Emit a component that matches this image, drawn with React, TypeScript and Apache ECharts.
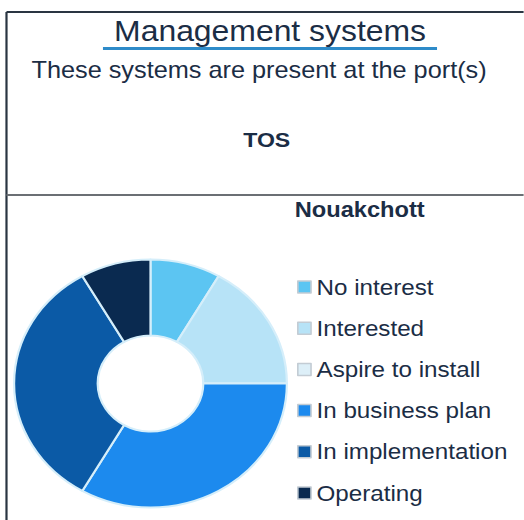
import React, { useEffect, useRef } from "react";
import * as echarts from "echarts";

const categories = [
  "No interest",
  "Interested",
  "Aspire to install",
  "In business plan",
  "In implementation",
  "Operating",
];
const values = [1, 2, 0, 4, 4, 1];
const colors = ["#5CC5F2", "#B7E3F7", "#DDEFF8", "#1C8AEE", "#0B5AA6", "#0A2A50"];

const titleText = "Management systems";
const subtitleText = "These systems are present at the port(s)";
const systemText = "TOS";
const portText = "Nouakchott";

const FONT = "Liberation Sans, Arial, sans-serif";
const INK = "#1b2d45";
const STRETCH = 1.1;
const W = 524 / STRETCH;
const H = 520;

export default function App() {
  const ref = useRef<HTMLDivElement>(null);

  useEffect(() => {
    if (!ref.current) return;
    const chart = echarts.init(ref.current, undefined, { renderer: "svg" });
    chart.setOption({
      animation: false,
      color: colors,
      graphic: [
        {
          type: "line",
          shape: { x1: 5.9, y1: 12, x2: W, y2: 12 },
          style: { stroke: "#2a3542", lineWidth: 2 },
        },
        {
          type: "line",
          shape: { x1: 5.9, y1: 12, x2: 5.9, y2: H },
          style: { stroke: "#2a3542", lineWidth: 2 },
        },
        {
          type: "line",
          shape: { x1: 5.9, y1: 195, x2: W, y2: 195 },
          style: { stroke: "#6b6f74", lineWidth: 2 },
        },
        {
          type: "text",
          x: 245.5,
          y: 31,
          style: {
            text: titleText,
            font: `29px ${FONT}`,
            fill: INK,
            align: "center",
            verticalAlign: "middle",
          },
        },
        {
          type: "line",
          shape: { x1: 93.6, y1: 48.5, x2: 397.3, y2: 48.5 },
          style: { stroke: "#2E8BC9", lineWidth: 3 },
        },
        {
          type: "text",
          x: 235.5,
          y: 69.5,
          style: {
            text: subtitleText,
            font: `23px ${FONT}`,
            fill: INK,
            align: "center",
            verticalAlign: "middle",
          },
        },
        {
          type: "text",
          x: 242.5,
          y: 139.5,
          style: {
            text: systemText,
            font: `bold 21px ${FONT}`,
            fill: INK,
            align: "center",
            verticalAlign: "middle",
          },
        },
        {
          type: "text",
          x: 327,
          y: 209.5,
          style: {
            text: portText,
            font: `bold 21.5px ${FONT}`,
            fill: INK,
            align: "center",
            verticalAlign: "middle",
          },
        },
      ],
      legend: {
        orient: "vertical",
        left: 270,
        top: 276,
        padding: 0,
        itemGap: 19.2,
        itemWidth: 12,
        itemHeight: 12,
        icon: "rect",
        itemStyle: { borderColor: "#c3ccd4", borderWidth: 1.5 },
        textStyle: {
          fontFamily: FONT,
          fontSize: 22,
          lineHeight: 22,
          color: INK,
        },
        data: categories,
        selectedMode: false,
      },
      series: [
        {
          type: "pie",
          center: [136.8, 383.5],
          radius: [48, 124],
          startAngle: 90,
          clockwise: true,
          avoidLabelOverlap: false,
          label: { show: false },
          labelLine: { show: false },
          emphasis: { disabled: true },
          itemStyle: { borderColor: "#d5eefa", borderWidth: 2 },
          data: categories.map((name, i) => ({
            name,
            value: values[i],
            itemStyle: { color: colors[i] },
          })),
        },
      ],
    });
    return () => chart.dispose();
  }, []);

  return (
    <div
      ref={ref}
      style={{
        position: "fixed",
        left: 0,
        top: 0,
        width: W,
        height: H,
        transform: `scaleX(${STRETCH})`,
        transformOrigin: "0 0",
        background: "#ffffff",
      }}
    />
  );
}
